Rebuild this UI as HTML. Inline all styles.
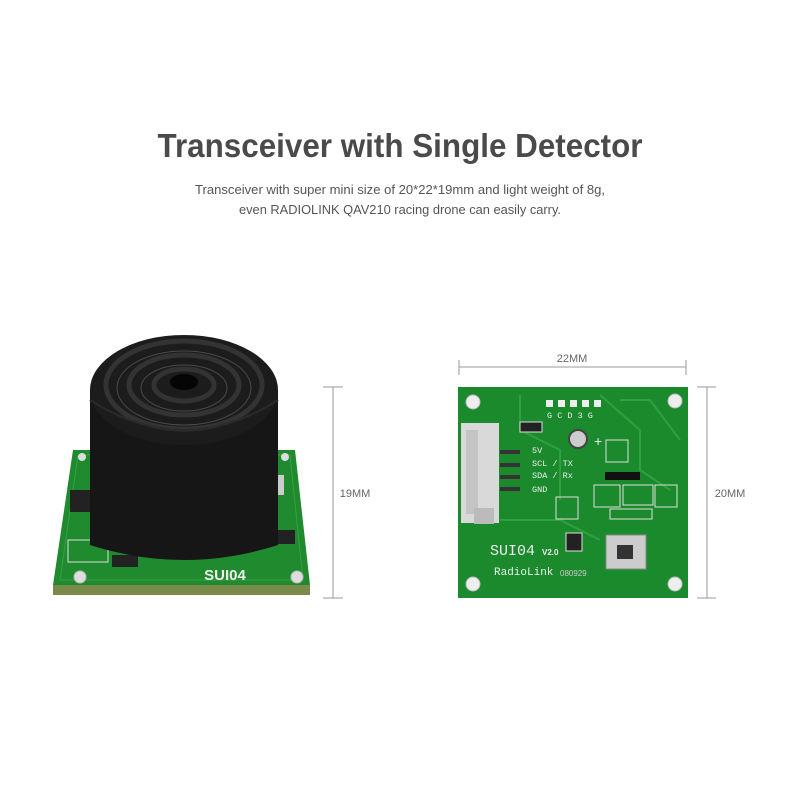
<!DOCTYPE html>
<html><head><style>html,body{margin:0;padding:0;background:#fff}svg{display:block}</style></head>
<body>
<svg width="800" height="800" viewBox="0 0 800 800" xmlns="http://www.w3.org/2000/svg" font-family="Liberation Sans, sans-serif">
<rect width="800" height="800" fill="#fff"/>
<text x="400" y="157" text-anchor="middle" font-size="33" font-weight="bold" fill="#4a4a4a" textLength="485" lengthAdjust="spacingAndGlyphs">Transceiver with Single Detector</text>
<text x="400" y="194" text-anchor="middle" font-size="12.5" fill="#555" textLength="410" lengthAdjust="spacingAndGlyphs">Transceiver with super mini size of 20*22*19mm and light weight of 8g,</text>
<text x="400" y="214" text-anchor="middle" font-size="12.5" fill="#555" textLength="322" lengthAdjust="spacingAndGlyphs">even RADIOLINK QAV210 racing drone can easily carry.</text>

<!-- left dimension -->
<g stroke="#999" stroke-width="1" fill="none">
<line x1="333" y1="387" x2="333" y2="598"/><line x1="323" y1="387" x2="343" y2="387"/><line x1="323" y1="598" x2="343" y2="598"/>
<line x1="459" y1="367" x2="686" y2="367"/><line x1="459" y1="360" x2="459" y2="375"/><line x1="686" y1="360" x2="686" y2="375"/>
<line x1="707" y1="387" x2="707" y2="598"/><line x1="697" y1="387" x2="716" y2="387"/><line x1="697" y1="598" x2="716" y2="598"/>
</g>
<text x="355" y="497" text-anchor="middle" font-size="11" fill="#666">19MM</text>
<text x="572" y="362" text-anchor="middle" font-size="11" fill="#666">22MM</text>
<text x="730" y="497" text-anchor="middle" font-size="11" fill="#666">20MM</text>

<!-- left PCB -->
<polygon points="53,585 310,585 310,595 53,595" fill="#7a8a4a"/>
<polygon points="73,450 295,450 310,585 53,585" fill="#1f8a2e"/>
<polygon points="78,455 290,455 303,580 60,580" fill="none" stroke="#35a045" stroke-width="1"/>
<circle cx="80" cy="577" r="6" fill="#ddd" stroke="#bbb"/><circle cx="297" cy="577" r="6" fill="#ddd" stroke="#bbb"/>
<circle cx="82" cy="457" r="4" fill="#ddd"/><circle cx="285" cy="457" r="4" fill="#ddd"/>
<rect x="70" y="490" width="22" height="22" fill="#222"/>
<rect x="265" y="530" width="30" height="14" fill="#222"/>
<rect x="112" y="555" width="26" height="12" fill="#222"/>
<rect x="68" y="540" width="40" height="22" fill="none" stroke="#ddd"/>
<rect x="272" y="475" width="12" height="20" fill="#ccc"/>
<text x="225" y="580" text-anchor="middle" font-size="15" font-weight="bold" fill="#eee">SUI04</text>
<!-- cylinder -->
<path d="M90,390 L90,545 Q184,575 278,545 L278,390 Z" fill="#161616"/>
<ellipse cx="184" cy="390" rx="94" ry="55" fill="#1c1c1c"/>
<g fill="none" stroke="#333" stroke-width="5">
<ellipse cx="184" cy="385" rx="78" ry="44"/>
<ellipse cx="184" cy="385" rx="55" ry="30"/>
<ellipse cx="184" cy="385" rx="30" ry="16"/>
</g>
<g fill="none" stroke="#4a4a4a" stroke-width="1">
<ellipse cx="184" cy="388" rx="67" ry="37"/><ellipse cx="184" cy="388" rx="43" ry="23"/>
</g>
<ellipse cx="184" cy="382" rx="14" ry="8" fill="#050505"/>
<path d="M90,400 Q184,460 278,400" fill="none" stroke="#2a2a2a" stroke-width="2"/>

<!-- right PCB -->
<rect x="458" y="387" width="230" height="211" fill="#1a8a2c"/>
<g fill="none" stroke="#2ea03e" stroke-width="2">
<path d="M520,395 L520,430 L560,450 L560,500"/><path d="M600,395 L640,430 L640,470 L670,490"/>
<path d="M500,520 L560,520 L600,540"/><path d="M620,400 L650,400 L680,440"/>
</g>
<circle cx="473" cy="402" r="7" fill="#eee" stroke="#bbb"/><circle cx="675" cy="401" r="7" fill="#eee" stroke="#bbb"/>
<circle cx="473" cy="584" r="7" fill="#eee" stroke="#bbb"/><circle cx="675" cy="584" r="7" fill="#eee" stroke="#bbb"/>
<rect x="461" y="423" width="38" height="100" fill="#d9d9d9"/>
<rect x="466" y="430" width="12" height="84" fill="#c4c4c4"/>
<rect x="474" y="508" width="20" height="16" fill="#bbb"/>
<g fill="#333"><rect x="500" y="450" width="20" height="4"/><rect x="500" y="463" width="20" height="4"/><rect x="500" y="475" width="20" height="4"/><rect x="500" y="487" width="20" height="4"/></g>
<g fill="#eee" font-size="8.5" font-family="Liberation Mono, monospace">
<text x="532" y="453">5V</text><text x="532" y="466">SCL / TX</text><text x="532" y="478">SDA / Rx</text><text x="532" y="492">GND</text>
<text x="547" y="418">G C D 3 G</text>
</g>
<g fill="#eee"><rect x="546" y="400" width="7" height="7"/><rect x="558" y="400" width="7" height="7"/><rect x="570" y="400" width="7" height="7"/><rect x="582" y="400" width="7" height="7"/><rect x="594" y="400" width="7" height="7"/></g>
<rect x="520" y="422" width="22" height="10" fill="#222" stroke="#ddd"/>
<circle cx="578" cy="439" r="9" fill="#ccc" stroke="#444" stroke-width="2"/>
<text x="594" y="446" font-size="14" fill="#eee">+</text>
<rect x="606" y="440" width="22" height="22" fill="none" stroke="#ddd"/>
<rect x="605" y="472" width="35" height="8" fill="#111"/>
<rect x="594" y="485" width="26" height="22" fill="none" stroke="#ddd"/>
<rect x="623" y="485" width="30" height="20" fill="none" stroke="#ddd"/>
<rect x="655" y="485" width="22" height="22" fill="none" stroke="#ddd"/>
<rect x="610" y="509" width="42" height="10" fill="none" stroke="#ddd"/>
<rect x="556" y="497" width="22" height="22" fill="none" stroke="#ddd"/>
<rect x="566" y="533" width="16" height="18" fill="#222" stroke="#ddd"/>
<rect x="606" y="535" width="40" height="34" fill="#ccc" stroke="#888"/>
<rect x="617" y="545" width="16" height="14" fill="#333"/>
<text x="490" y="555" font-size="15" fill="#eee" font-family="Liberation Mono, monospace">SUI04</text>
<text x="542" y="555" font-size="8" fill="#eee" font-weight="bold">V2.0</text>
<text x="494" y="575" font-size="11" fill="#eee" font-family="Liberation Mono, monospace">RadioLink</text>
<text x="560" y="576" font-size="8" fill="#ccc">080929</text>
</svg>
</body></html>
